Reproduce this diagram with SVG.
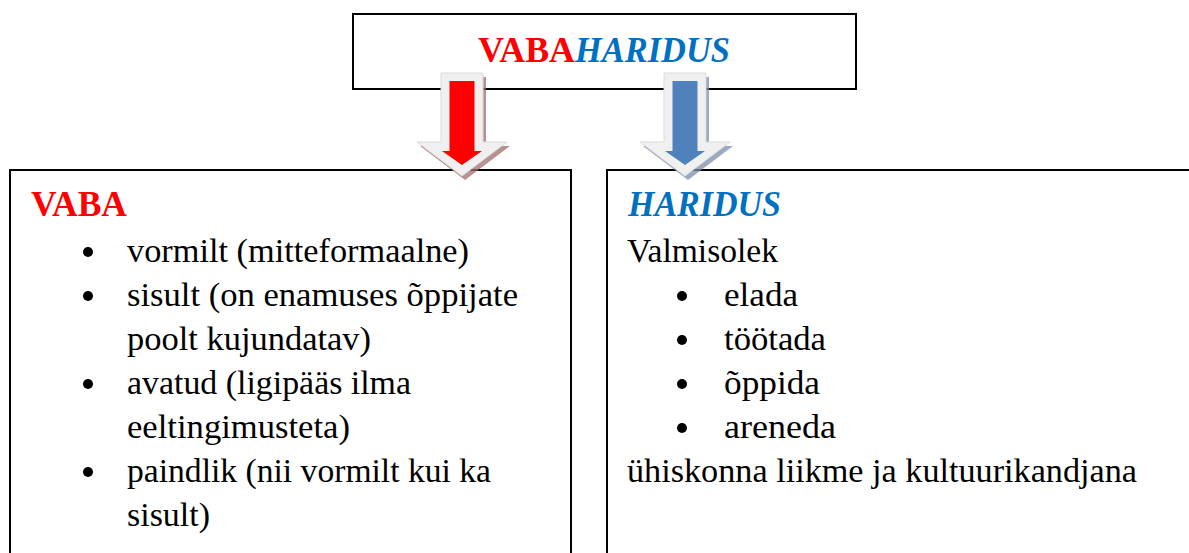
<svg xmlns="http://www.w3.org/2000/svg" width="1189" height="553" viewBox="0 0 1189 553">
<style>
  .box { fill: #ffffff; stroke: #000000; stroke-width: 2; }
  .body { font-family: "Liberation Serif", "Times New Roman", serif; font-size: 34px; fill: #000000; }
  .head { font-family: "Liberation Serif", "Times New Roman", serif; font-size: 36px; font-weight: bold; }
  .red { fill: #FF0000; }
  .blue { fill: #0070C0; font-style: italic; }
  .bevel { fill: #F0F0F0; stroke: #DADADA; stroke-width: 1; }
</style>
<defs>
  <polygon id="outer" points="-21,-15 21,-15 21,54 45,54 0,88 -45,54 -21,54"/>
  <polygon id="inner" points="-12.5,-7 12.5,-7 12.5,63 20,63 0,77 -20,63 -12.5,63"/>
</defs>
<rect width="1189" height="553" fill="#ffffff"/>

<g id="node-top">
  <rect class="box" x="353" y="14" width="503" height="75"/>
  <text x="478" y="62" class="head"><tspan class="red" textLength="97" lengthAdjust="spacingAndGlyphs">VABA</tspan><tspan class="blue" textLength="155" lengthAdjust="spacingAndGlyphs">HARIDUS</tspan></text>
</g>

<g id="node-vaba">
  <rect class="box" x="10" y="170" width="561" height="400" stroke-width="1.5"/>
  <text x="31" y="216" class="head red" textLength="96" lengthAdjust="spacingAndGlyphs">VABA</text>
  <g class="body">
    <circle cx="88" cy="252" r="5"/>
    <text x="127" y="262" textLength="342" lengthAdjust="spacingAndGlyphs">vormilt (mitteformaalne)</text>
    <circle cx="88" cy="296" r="5"/>
    <text x="127" y="306" textLength="391" lengthAdjust="spacingAndGlyphs">sisult (on enamuses õppijate</text>
    <text x="127" y="350" textLength="244" lengthAdjust="spacingAndGlyphs">poolt kujundatav)</text>
    <circle cx="88" cy="384" r="5"/>
    <text x="127" y="394" textLength="284" lengthAdjust="spacingAndGlyphs">avatud (ligipääs ilma</text>
    <text x="127" y="438" textLength="223" lengthAdjust="spacingAndGlyphs">eeltingimusteta)</text>
    <circle cx="88" cy="472" r="5"/>
    <text x="127" y="482" textLength="364" lengthAdjust="spacingAndGlyphs">paindlik (nii vormilt kui ka</text>
    <text x="127" y="526" textLength="83" lengthAdjust="spacingAndGlyphs">sisult)</text>
  </g>
</g>

<g id="node-haridus">
  <rect class="box" x="607" y="170" width="600" height="400" stroke-width="1.5"/>
  <text x="628" y="216" class="head blue" textLength="153" lengthAdjust="spacingAndGlyphs">HARIDUS</text>
  <g class="body">
    <text x="627" y="262" textLength="151" lengthAdjust="spacingAndGlyphs">Valmisolek</text>
    <circle cx="682" cy="296" r="5"/>
    <text x="724" y="306" textLength="74" lengthAdjust="spacingAndGlyphs">elada</text>
    <circle cx="682" cy="340" r="5"/>
    <text x="724" y="350" textLength="102" lengthAdjust="spacingAndGlyphs">töötada</text>
    <circle cx="682" cy="384" r="5"/>
    <text x="724" y="394" textLength="96" lengthAdjust="spacingAndGlyphs">õppida</text>
    <circle cx="682" cy="428" r="5"/>
    <text x="724" y="438" textLength="112" lengthAdjust="spacingAndGlyphs">areneda</text>
    <text x="627" y="482" textLength="510" lengthAdjust="spacingAndGlyphs">ühiskonna liikme ja kultuurikandjana</text>
  </g>
</g>

<g id="connectors">
  <g transform="translate(462,88)">
    <use href="#outer" fill="#9E6E6E" opacity="0.75" transform="translate(3,4)"/>
    <use href="#outer" class="bevel"/>
    <use href="#inner" fill="#FF0000"/>
  </g>
  <g transform="translate(685,88)">
    <use href="#outer" fill="#7C8CA8" opacity="0.75" transform="translate(3,4)"/>
    <use href="#outer" class="bevel"/>
    <use href="#inner" fill="#4F81BD"/>
  </g>
</g>
</svg>
